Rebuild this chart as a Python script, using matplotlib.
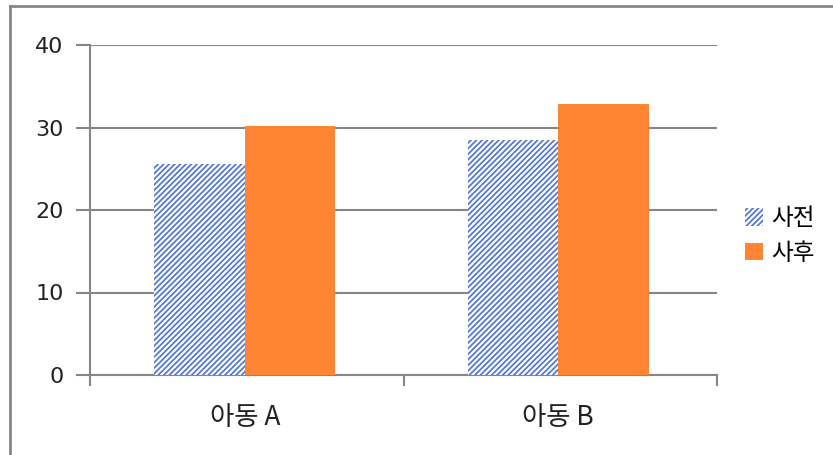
import matplotlib
matplotlib.use("Agg")
import matplotlib.pyplot as plt
import numpy as np
from matplotlib.lines import Line2D

plt.rcParams['font.family'] = ['Noto Sans CJK KR', 'DejaVu Sans']
plt.rcParams['hatch.linewidth'] = 1.2

categories = ['아동 A', '아동 B']
series_names = ['사전', '사후']
before = [25.6, 28.5]
after = [30.2, 32.8]
yticks = [0, 10, 20, 30, 40]

gray = '#868686'
blue = '#4a72d6'
orange = '#FF8535'

fig = plt.figure(figsize=(8.33, 4.55), dpi=100)
ax = fig.add_axes([90/833, 1-375/455, (717-90)/833, (375-45)/455])

x = np.arange(len(categories))
w = 0.289
b1 = ax.bar(x - w/2 - 0.006, before, w, facecolor='white', edgecolor=blue, hatch='//////', linewidth=0, label=series_names[0], zorder=3)
b2 = ax.bar(x + w/2 - 0.006, after, w, color=orange, linewidth=0, label=series_names[1], zorder=3)

ax.set_xlim(-0.5, 1.5)
ax.set_ylim(0, 40)
ax.set_yticks(yticks)
ax.set_yticklabels([str(v) for v in yticks], fontsize=16, color='#222222', family=['DejaVu Sans'])
ax.yaxis.grid(True, color=gray, linewidth=1.5, zorder=0)
ax.set_axisbelow(True)

ax.set_xticks([-0.5, 0.5, 1.5])
ax.set_xticklabels(['', '', ''])
ax.tick_params(axis='x', length=8, width=1.5, color=gray, direction='out')
ax.tick_params(axis='y', length=10, width=1.5, color=gray, direction='out', pad=9)
for i, c in enumerate(categories):
    ax.text(x[i] - 0.006, -0.13, c, transform=ax.get_xaxis_transform(), ha='center', va='center', fontsize=19, color='#222222')

for s in ['top', 'right']:
    ax.spines[s].set_visible(False)
for s in ['left', 'bottom']:
    ax.spines[s].set_color(gray)
    ax.spines[s].set_linewidth(1.5)

leg = fig.legend(handles=[b1, b2], labels=series_names, loc='center left', bbox_to_anchor=(724/833, 1-236/455),
                 frameon=False, fontsize=17, handlelength=0.75, handleheight=0.75, handletextpad=0.35, labelspacing=0.5)

# outer border
fig.add_artist(Line2D([10/833, 10/833], [0, 1-6/455], transform=fig.transFigure, color=gray, linewidth=2))
fig.add_artist(Line2D([10/833, 1], [1-6/455, 1-6/455], transform=fig.transFigure, color=gray, linewidth=2))

fig.savefig('out.png', dpi=100)
